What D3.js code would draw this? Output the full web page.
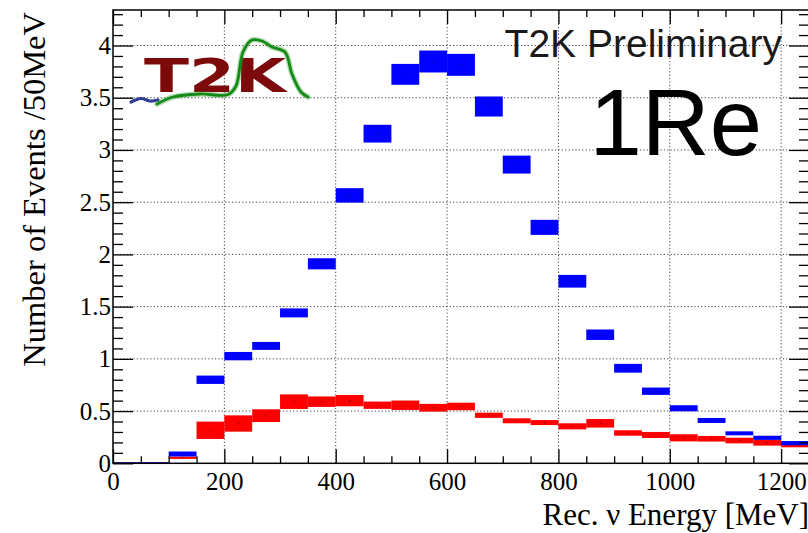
<!DOCTYPE html>
<html>
<head>
<meta charset="utf-8">
<script src="https://cdn.jsdelivr.net/npm/d3@7"></script>
<style>
  html, body { margin: 0; padding: 0; background: #fff; }
  svg { display: block; }
</style>
</head>
<body>
<svg id="chart" width="808" height="533"></svg>
<script>
// ---------------- data ----------------
const binStarts = [0, 50, 100, 150, 200, 250, 300, 350, 400, 450, 500, 550, 600, 650, 700, 750, 800, 850, 900, 950, 1000, 1050, 1100, 1150, 1200];
const binWidth = 50;
const blueValues = [0, 0, 0.089, 0.80, 1.026, 1.124, 1.44, 1.91, 2.565, 3.156, 3.724, 3.847, 3.815, 3.416, 2.86, 2.259, 1.743, 1.231, 0.91, 0.69, 0.527, 0.41, 0.287, 0.244, 0.193];
const blueErrors = [0, 0, 0.024, 0.04, 0.04, 0.038, 0.043, 0.053, 0.069, 0.085, 0.10, 0.105, 0.105, 0.096, 0.086, 0.072, 0.061, 0.05, 0.042, 0.035, 0.029, 0.024, 0.019, 0.02, 0.02];
const redValues = [0, 0, 0.053, 0.316, 0.381, 0.456, 0.59, 0.59, 0.60, 0.556, 0.556, 0.532, 0.544, 0.46, 0.407, 0.39, 0.354, 0.383, 0.29, 0.271, 0.244, 0.235, 0.218, 0.196, 0.18];
const redErrors = [0, 0, 0.011, 0.083, 0.078, 0.061, 0.07, 0.05, 0.054, 0.035, 0.045, 0.037, 0.036, 0.025, 0.024, 0.024, 0.029, 0.041, 0.026, 0.029, 0.034, 0.027, 0.027, 0.027, 0.027];
const xTickLabels = [0, 200, 400, 600, 800, 1000, 1200];
const yTickLabels = [0, 0.5, 1, 1.5, 2, 2.5, 3, 3.5, 4];
const xTitle = "Rec. \u03BD Energy [MeV]";
const yTitle = "Number of Events /50MeV";
const labelPrelim = "T2K Preliminary";
const labelSample = "1Re";
const logoText = "T2K";

// ---------------- layout ----------------
const svg = d3.select("#chart");
const L = 113, T = 10, R = 809, B = 463.3;
const x = d3.scaleLinear().domain([0, 1250]).range([L, R]);
const y = d3.scaleLinear().domain([0, 4.34]).range([B, T]);
const serif = "'Liberation Serif', 'Times New Roman', serif";
const sans = "'Liberation Sans', Arial, Helvetica, sans-serif";

// grid
const grid = svg.append("g").attr("stroke", "#444").attr("stroke-width", 1).attr("stroke-dasharray", "1.2,2.2");
grid.selectAll("line.gx").data(xTickLabels.filter(d => d > 0)).join("line")
  .attr("x1", d => x(d)).attr("x2", d => x(d)).attr("y1", T).attr("y2", B);
grid.selectAll("line.gy").data(yTickLabels.filter(d => d > 0)).join("line")
  .attr("x1", L).attr("x2", R).attr("y1", d => y(d)).attr("y2", d => y(d));

// ---------------- logo (decoration) ----------------
const logo = svg.append("g");
logo.append("text")
  .attr("x", 144).attr("y", 92)
  .attr("textLength", 142).attr("lengthAdjust", "spacingAndGlyphs")
  .attr("font-family", "'DejaVu Sans', sans-serif").attr("font-weight", "bold")
  .attr("font-size", 47).attr("fill", "#7d0a0a")
  .text(logoText);
const line = d3.line().curve(d3.curveCatmullRom);
logo.append("path")
  .attr("d", line([[131, 102], [141, 98.5], [150, 101], [158, 100]]))
  .attr("fill", "none").attr("stroke", "#1c2a8c").attr("stroke-width", 3.2).attr("stroke-linecap", "round").attr("opacity", 0.9);
const greenPts = [[157, 104], [173, 97], [200, 94], [228, 94.5], [236, 86], [243, 52], [252, 40], [262, 41], [272, 47], [285, 52], [292, 74], [301, 92], [308, 97]];
logo.append("path")
  .attr("d", line(greenPts))
  .attr("fill", "none").attr("stroke", "#2b9a2b").attr("stroke-width", 5.5).attr("stroke-linecap", "round").attr("opacity", 0.35);
logo.append("path")
  .attr("d", line(greenPts))
  .attr("fill", "none").attr("stroke", "#168a16").attr("stroke-width", 2.8).attr("stroke-linecap", "round");

// ---------------- boxes ----------------
function drawBoxes(vals, errs, color) {
  const g = svg.append("g");
  const data = binStarts.map((s, i) => ({ s, v: vals[i], e: errs[i] }));
  g.selectAll("rect").data(data).join("rect")
    .attr("x", d => x(d.s))
    .attr("width", d => x(d.s + binWidth) - x(d.s))
    .attr("y", d => d.e > 0 ? y(d.v + d.e) : y(d.v) - 1)
    .attr("height", d => d.e > 0 ? Math.max(1.5, y(d.v - d.e) - y(d.v + d.e)) : 1.6)
    .attr("fill", color);
  g.selectAll("circle").data(data.filter(d => d.e > 0)).join("circle")
    .attr("cx", d => x(d.s + binWidth / 2)).attr("cy", d => y(d.v))
    .attr("r", 0.6).attr("fill", "#222");
}
drawBoxes(redValues, redErrors, "#ff0000");
drawBoxes(blueValues, blueErrors, "#0000ff");

// ---------------- axes ----------------
const fmt = d3.format("~g");
const xMinor = d3.range(0, 1251, 50).filter(d => d % 200 !== 0);
const yMinor = d3.range(0, 44).map(i => Math.round(i * 10) / 100).filter(d => Math.round(d * 100) % 50 !== 0 && d <= 4.34);

function styleAxis(g) {
  g.attr("font-family", serif).attr("font-size", 25);
  g.selectAll(".domain").remove();
  g.selectAll("line").attr("stroke", "#000").attr("stroke-width", 1.3);
  g.selectAll("text").attr("font-family", serif).attr("font-size", 25).attr("fill", "#000");
}
// bottom
svg.append("g").attr("transform", `translate(0,${B})`)
  .call(d3.axisBottom(x).tickValues(xTickLabels).tickSizeInner(-14).tickSizeOuter(0).tickPadding(8.5).tickFormat(fmt))
  .call(styleAxis);
svg.append("g").attr("transform", `translate(0,${B})`)
  .call(d3.axisBottom(x).tickValues(xMinor).tickSizeInner(-7).tickSizeOuter(0).tickFormat(""))
  .call(styleAxis);
// top
svg.append("g").attr("transform", `translate(0,${T})`)
  .call(d3.axisTop(x).tickValues(xTickLabels).tickSizeInner(-14).tickSizeOuter(0).tickFormat(""))
  .call(styleAxis);
svg.append("g").attr("transform", `translate(0,${T})`)
  .call(d3.axisTop(x).tickValues(xMinor).tickSizeInner(-7).tickSizeOuter(0).tickFormat(""))
  .call(styleAxis);
// left
svg.append("g").attr("transform", `translate(${L},0)`)
  .call(d3.axisLeft(y).tickValues(yTickLabels).tickSizeInner(-20).tickSizeOuter(0).tickPadding(2).tickFormat(fmt))
  .call(styleAxis);
svg.append("g").attr("transform", `translate(${L},0)`)
  .call(d3.axisLeft(y).tickValues(yMinor).tickSizeInner(-10).tickSizeOuter(0).tickFormat(""))
  .call(styleAxis);
// right
svg.append("g").attr("transform", `translate(${R},0)`)
  .call(d3.axisRight(y).tickValues(yTickLabels).tickSizeInner(-20).tickSizeOuter(0).tickFormat(""))
  .call(styleAxis);
svg.append("g").attr("transform", `translate(${R},0)`)
  .call(d3.axisRight(y).tickValues(yMinor).tickSizeInner(-10).tickSizeOuter(0).tickFormat(""))
  .call(styleAxis);

// frame
svg.append("rect").attr("x", L).attr("y", T).attr("width", R - L).attr("height", B - T)
  .attr("fill", "none").attr("stroke", "#000").attr("stroke-width", 1.5);

// ---------------- titles ----------------
svg.append("text").attr("x", 809).attr("y", 525).attr("text-anchor", "end")
  .attr("font-family", serif).attr("font-size", 31).attr("fill", "#000").text(xTitle);
svg.append("text").attr("transform", "translate(45,12) rotate(-90)").attr("text-anchor", "end")
  .attr("font-family", serif).attr("font-size", 32.5).attr("fill", "#000").text(yTitle);

svg.append("text").attr("x", 782).attr("y", 57).attr("text-anchor", "end")
  .attr("font-family", sans).attr("font-size", 39).attr("fill", "#1a1a1a").text(labelPrelim);
svg.append("text").attr("x", 762).attr("y", 155).attr("text-anchor", "end")
  .attr("font-family", sans).attr("font-size", 94).attr("fill", "#000").text(labelSample);
</script>
</body>
</html>
